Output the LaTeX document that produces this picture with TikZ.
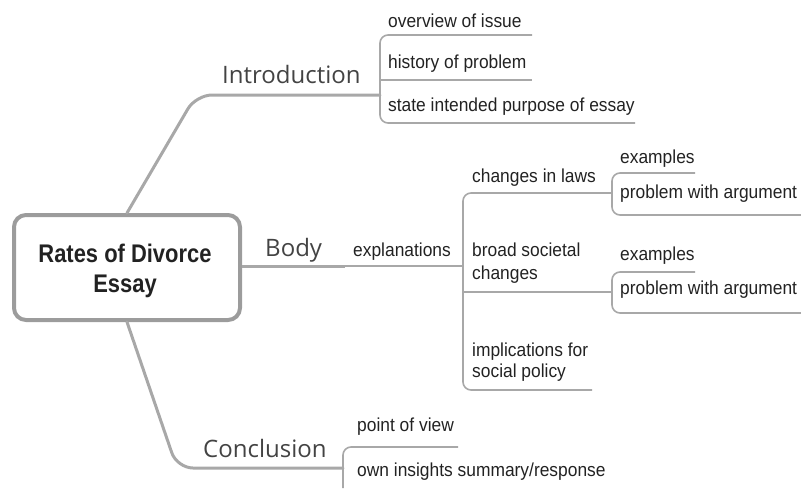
\documentclass[tikz,border=0pt]{standalone}
\usepackage{fontspec}
\setmainfont{Liberation Sans}
\newfontfamily\labelfont{Open Sans}
\newfontfamily\smallfont[FakeStretch=0.925]{Liberation Sans}
\newfontfamily\titlefont[FakeStretch=0.86]{Liberation Sans}
\definecolor{branch}{HTML}{A8A8A8}
\definecolor{boxline}{HTML}{9C9C9C}
\definecolor{ink}{HTML}{222222}
\begin{document}
\begin{tikzpicture}[x=1pt,y=-1pt,
  main/.style={draw=branch,line width=3pt,rounded corners=16pt,line cap=round},
  brk/.style={draw=branch,line width=1.6pt,rounded corners=8pt},
  small/.style={anchor=base west,inner sep=0pt,text=ink,font=\smallfont\fontsize{18.8}{22}\selectfont},
  big/.style={anchor=base west,inner sep=0pt,text=ink!85,font=\labelfont\fontsize{24}{28}\selectfont},
  title/.style={anchor=base,inner sep=0pt,text=ink,font=\titlefont\bfseries\fontsize{25.5}{28}\selectfont}]
\useasboundingbox (0,0) rectangle (801,488);
% central box
\node[draw=boxline,line width=4pt,rounded corners=12pt,minimum width=226pt,minimum height=105pt,inner sep=0pt] (box) at (127,267.5) {};
\node[title] (t1) at (125,262) {Rates of Divorce};
\node[title] (t2) at (125,292) {Essay};
% Introduction
\coordinate (ic) at (196,95);
\coordinate (ij) at (380,95);
\draw[main] (box.north) -- (ic) -- (ij);
\node[big] (intro) at (222,83) {Introduction};
\coordinate (i1) at (532,35); \coordinate (i1c) at (380,35);
\coordinate (i3c) at (380,123); \coordinate (i3) at (635,123);
\coordinate (i2a) at (380,80); \coordinate (i2) at (532,80);
\draw[brk] (i1) -- (i1c) -- (i3c) -- (i3);
\draw[brk] (i2a) -- (i2);
\node[small] (ov) at (388,27) {overview of issue};
\node[small] (hi) at (388,68) {history of problem};
\node[small] (st) at (388,111) {state intended purpose of essay};
% Body
\coordinate (bj) at (463,266);
\draw[draw=branch,line width=3pt] (box.east |- bj) -- (345,266);
\draw[draw=branch,line width=2pt] (345,266) -- (bj);
\node[big] (body) at (265,256) {Body};
\node[small] (ex) at (353,256) {explanations};
\coordinate (b1) at (612,193); \coordinate (b1c) at (463,193);
\coordinate (b3c) at (463,390); \coordinate (b3) at (592,390);
\coordinate (b2a) at (463,292); \coordinate (b2) at (612,292);
\draw[brk] (b1) -- (b1c) -- (b3c) -- (b3);
\draw[brk] (b2a) -- (b2);
\node[small] (cl) at (472,182) {changes in laws};
\node[small] (bs1) at (472,256) {broad societal};
\node[small] (bs2) at (472,279) {changes};
\node[small] (im1) at (472,356) {implications for};
\node[small] (im2) at (472,377) {social policy};
% sub brackets
\coordinate (s1t) at (695,173); \coordinate (s1tc) at (612,173);
\coordinate (s1bc) at (612,215); \coordinate (s1b) at (801,215);
\draw[brk] (s1t) -- (s1tc) -- (s1bc) -- (s1b);
\coordinate (s2t) at (695,272); \coordinate (s2tc) at (612,272);
\coordinate (s2bc) at (612,313); \coordinate (s2b) at (801,313);
\draw[brk] (s2t) -- (s2tc) -- (s2bc) -- (s2b);
\node[small] (e1) at (620,163) {examples};
\node[small] (p1) at (620,198) {problem with argument};
\node[small] (e2) at (620,260) {examples};
\node[small] (p2) at (620,294) {problem with argument};
% Conclusion
\coordinate (cc) at (177,468);
\coordinate (cj) at (343,468);
\draw[main] (box.south) -- (cc) -- (cj);
\node[big] (concl) at (203,457) {Conclusion};
\coordinate (c1) at (458,447); \coordinate (c1c) at (343,447);
\coordinate (c2) at (343,488);
\draw[brk] (c1) -- (c1c) -- (c2);
\node[small] (pv) at (357,431) {point of view};
\node[small] (oi) at (357,476) {own insights summary/response};
\end{tikzpicture}
\end{document}
